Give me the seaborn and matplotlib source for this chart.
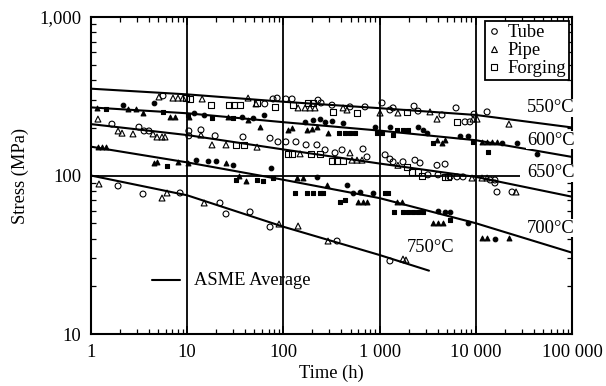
import matplotlib
matplotlib.use("Agg")
import matplotlib.pyplot as plt
from matplotlib.lines import Line2D
import matplotlib.ticker as mticker
import numpy as np
import pandas as pd
import seaborn as sns

# ---------------- data ----------------
# ASME average curves (time h, stress MPa)
curve_time = [1, 10, 100, 1000, 10000, 100000]
asme_550 = [353, 325, 292, 266, 241, 201]
asme_600 = [269, 247, 217, 192, 167, 131]
asme_650 = [211, 180, 146, 119, 98, 73.5]
asme_700 = [152, 121, 94, 72, 50, 32.6]
curve_time_750 = [1, 10, 100, 1000, 3260]
asme_750 = [100, 75, 47.5, 31.5, 25.1]

# Tube (open circles)
tube_t = [5.6, 64, 78, 86, 106, 123, 229, 246, 320, 492, 705, 1060, 1280, 1380, 2280, 2510,
          4450, 6230, 7720, 8700, 9580, 13100,
          1.65, 3.15, 3.56, 4.0, 10.4, 10.4, 13.9, 19.5, 38, 72.6, 87.8, 106, 135, 172, 223,
          271, 344, 407, 672, 739, 1140, 1280, 1380, 1750, 2330, 2630, 3950, 4790, 3180, 4050,
          5400, 6380, 7360, 14100, 15800, 15800, 16600, 23800,
          1.91, 3.47, 8.42, 21.9, 25.3, 45, 72.6, 361, 1280]
tube_s = [318, 283, 304, 308, 304, 304, 299, 287, 278, 271, 271, 287, 259, 267, 274, 255,
          241, 267, 218, 218, 244, 252,
          211, 202, 191, 191, 191, 178, 194, 178, 175, 172, 163, 163, 163, 156, 156,
          145, 139, 145, 147, 131, 135, 127, 122, 122, 125, 120, 116, 118, 101, 101,
          98, 98, 98, 93.7, 93.7, 89.7, 78.7, 78.7,
          85.9, 76.4, 77.6, 67.1, 57.2, 58.9, 47.3, 38.6, 28.9]

# Pipe (open triangles)
pipe_t = [5.09, 7.11, 8.02, 9.04, 14.3, 42.9, 51.9, 142, 168, 189, 213, 417, 458, 1010, 1550,
          3340, 3950, 9350, 10300, 22100,
          1.18, 1.91, 2.10, 2.73, 4.41, 4.85, 5.47, 5.88, 13.9, 18.1, 25.3, 53.2, 149, 492, 516,
          582, 656, 1550, 9130, 11600, 13100, 26200,
          1.21, 5.47, 6.17, 15, 90, 142, 291, 1750, 1880]
pipe_s = [313, 308, 308, 308, 304, 308, 283, 267, 267, 267, 267, 267, 259, 248, 248,
          252, 227, 227, 227, 211,
          227, 191, 185, 183, 183, 175, 175, 175, 180, 156, 156, 151, 137, 139, 125,
          125, 125, 116, 96.4, 96.4, 96.4, 78.7,
          88.4, 72.1, 77.6, 67.1, 49.4, 48, 38.6, 29.7, 29.3]

# Forging (open squares)
forg_t = [9.72, 10.7, 17.7, 27.2, 30.6, 35.4, 53.2, 81.8, 126, 180, 203, 328, 582, 1930, 6380,
          32.1, 38.9, 112, 123, 194, 240, 320, 361, 417, 1930, 2170, 2510, 2750, 4790, 5140]
forg_s = [308, 304, 278, 278, 278, 278, 287, 271, 278, 287, 287, 252, 248, 252, 218,
          156, 156, 137, 137, 137, 137, 123, 123, 123, 113, 105, 105, 99, 98, 98]

# Tube, filled circles
tubef_t = [2.15, 4.52, 15, 37.1, 48.3, 62.9, 11.8, 168, 203, 240, 271, 320, 417, 895, 1280,
           2510, 2820, 3110, 6850, 8290, 18700, 26800, 43300,
           16.5, 19.9, 12.3, 29.9, 74.3, 223, 458, 528, 625, 853, 4050, 4790, 5400, 8290, 15800]
tubef_s = [278, 287, 241, 234, 231, 241, 248, 218, 224, 227, 218, 221, 214, 202, 202,
           202, 194, 185, 178, 178, 160, 160, 137,
           123, 123, 125, 116, 111, 98, 87.1, 77.6, 78.7, 77.6, 59.7, 58.9, 58.9, 50.1, 39.7]

# Pipe, filled triangles
pipef_t = [1.15, 2.42, 2.94, 3.47, 6.62, 7.47, 10.4, 26.6, 42.9, 57.1, 112, 123, 176, 198, 223,
           291, 3950, 4450, 4790, 11600, 13100, 14700, 16600,
           1.18, 1.30, 1.43, 4.52, 4.85, 8.02, 10.2, 25.3, 40.8, 34.5, 138, 160, 284, 596, 672,
           739, 1520, 1710, 3590, 4050, 4560, 11600, 13100, 22100]
pipef_s = [267, 263, 263, 248, 234, 234, 234, 234, 224, 202, 194, 200, 194, 197, 202,
           185, 167, 160, 167, 163, 163, 163, 163,
           151, 151, 151, 120, 122, 122, 120, 120, 92.3, 99, 96.4, 96.4, 87.1, 68.1, 68.1,
           68.1, 68.1, 68.1, 50.1, 50.1, 50.1, 40.3, 40.3, 40.3]

# Forging, filled squares
forgf_t = [1.43, 5.6, 10.2, 18.1, 29.9, 378, 437, 492, 554, 940, 1060, 1380, 1520, 1750, 1970,
           3590, 9350, 13400,
           6.17, 32.1, 53.2, 61.4, 77.9, 132, 176, 203, 240, 258, 388, 437, 1140, 1220, 1410,
           1750, 1970, 2220, 2510, 2820, 5400]
forgf_s = [263, 252, 241, 231, 231, 185, 185, 185, 185, 185, 185, 180, 194, 194, 194,
           160, 163, 141,
           115, 93.7, 93.7, 92.3, 96.4, 77.6, 77.6, 77.6, 77.6, 77.6, 68.1, 70, 77.6, 77.6, 58.9,
           58.9, 58.9, 58.9, 58.9, 58.9, 52.4]

temp_labels = ["550°C", "600°C", "650°C", "700°C", "750°C"]
x_ticks = [1, 10, 100, 1000, 10000, 100000]
x_ticklabels = ["1", "10", "100", "1 000", "10 000", "100 000"]
y_ticks = [10, 100, 1000]
y_ticklabels = ["10", "100", "1,000"]
legend_labels = ["Tube", "Pipe", "Forging"]

# ---------------- plot ----------------
sns.set_style("ticks")
plt.rcParams["font.family"] = ["Liberation Serif", "DejaVu Serif"]
plt.rcParams["font.size"] = 13.3
plt.rcParams["text.color"] = "black"
plt.rcParams["axes.labelcolor"] = "black"

fig = plt.figure(figsize=(6.06, 3.86), dpi=100)
ax = fig.add_axes([0.1502, 0.1347, 0.7937, 0.8212])
ax.set_xscale("log")
ax.set_yscale("log")

sets = [
    (tube_t, tube_s, "o", "none", 18),
    (pipe_t, pipe_s, "^", "none", 18),
    (forg_t, forg_s, "s", "none", 18),
    (tubef_t, tubef_s, "o", "black", 11),
    (pipef_t, pipef_s, "^", "black", 12),
    (forgf_t, forgf_s, "s", "black", 11),
]
for t, s, m, fc, size in sets:
    df = pd.DataFrame({"t": t, "s": s})
    sns.scatterplot(data=df, x="t", y="s", marker=m, s=size, facecolors=fc,
                    edgecolors="black", linewidths=0.8, ax=ax, legend=False, zorder=3)

curves = [(curve_time, asme_550), (curve_time, asme_600), (curve_time, asme_650),
          (curve_time, asme_700), (curve_time_750, asme_750)]
for ct, cs in curves:
    dfc = pd.DataFrame({"t": ct, "s": cs})
    sns.lineplot(data=dfc, x="t", y="s", color="black", linewidth=1.5, ax=ax,
                 legend=False, zorder=4)

# labels of curves
label_pos = [(34000, 267), (34000, 167), (34000, 104), (34000, 46.6), (1930, 34.9)]
for lab, (tx, ty) in zip(temp_labels, label_pos):
    ax.text(tx, ty, lab, ha="left", va="center", fontsize=13.3, zorder=5, color="black",
            bbox=dict(facecolor="white", edgecolor="none", pad=0.5) if lab != "750°C" else None)

# grid lines
for gx in [10, 100, 1000, 10000]:
    ax.axvline(gx, color="black", linewidth=1.3, zorder=1)
ax.hlines(100, 1, 28800, color="black", linewidth=1.3, zorder=1)

ax.set_xlim(1, 100000)
ax.set_ylim(10, 1000)
ax.set_xticks(x_ticks)
ax.set_xticklabels(x_ticklabels)
ax.set_yticks(y_ticks)
ax.set_yticklabels(y_ticklabels)
ax.xaxis.set_minor_locator(mticker.LogLocator(base=10, subs=np.arange(2, 10)))
ax.yaxis.set_minor_locator(mticker.LogLocator(base=10, subs=np.arange(2, 10)))
ax.xaxis.set_minor_formatter(mticker.NullFormatter())
ax.yaxis.set_minor_formatter(mticker.NullFormatter())
ax.tick_params(which="both", direction="in", top=True, right=True, color="black",
               labelsize=13.3, labelcolor="black")
ax.tick_params(which="major", length=6, width=1.2, pad=7)
ax.tick_params(which="minor", length=3.5, width=0.9)
for sp in ax.spines.values():
    sp.set_linewidth(1.5)
    sp.set_color("black")

ax.set_xlabel("Time (h)", fontsize=13.3, labelpad=3, color="black")
ax.set_ylabel("Stress (MPa)", fontsize=13.3, labelpad=7, color="black")

# material legend
handles = [Line2D([], [], marker=m, linestyle="none", markerfacecolor="none",
                  markeredgecolor="black", markersize=4, markeredgewidth=0.8)
           for m in ["o", "^", "s"]]
leg = ax.legend(handles, legend_labels, loc="upper right", bbox_to_anchor=(0.994, 0.986),
                frameon=True, fancybox=False, edgecolor="black", framealpha=1,
                borderpad=0.15, labelspacing=0.05, handlelength=0.7, handletextpad=0.4,
                borderaxespad=0, fontsize=13.3)
leg.get_frame().set_linewidth(1.3)
leg.set_zorder(6)
for txt in leg.get_texts():
    txt.set_color("black")

# ASME average legend
ax.plot([0.127, 0.185], [0.17, 0.17], transform=ax.transAxes, color="black", linewidth=1.5)
ax.text(0.214, 0.17, "ASME Average", transform=ax.transAxes, ha="left", va="center",
        fontsize=13.3, color="black")

fig.savefig("out.png", dpi=100)
